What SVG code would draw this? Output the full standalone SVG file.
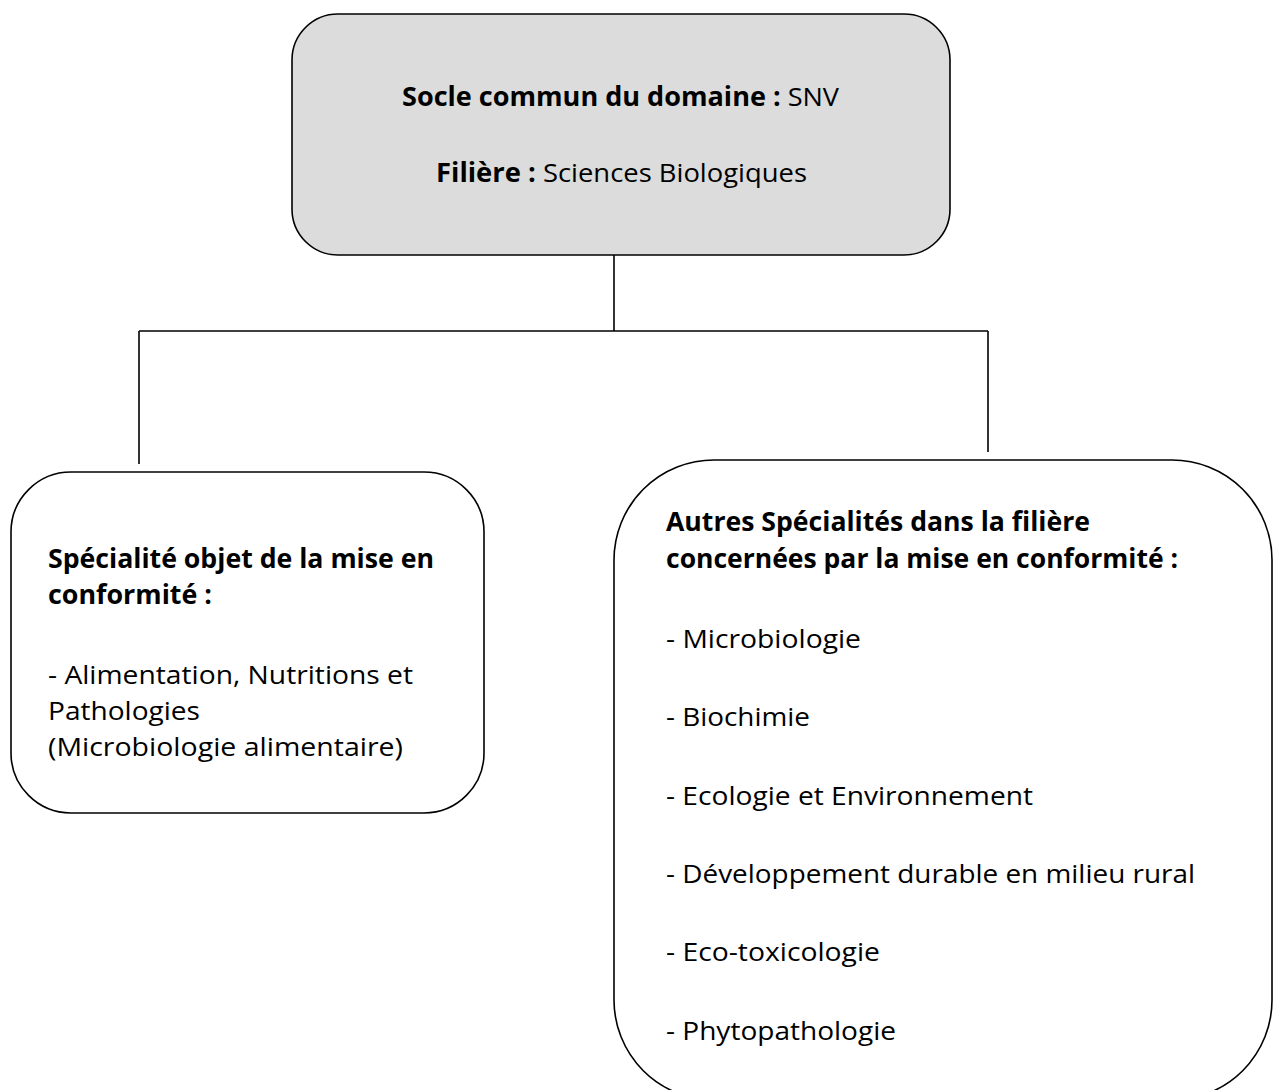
<svg xmlns="http://www.w3.org/2000/svg" width="1274" height="1090" viewBox="0 0 1274 1090">
<style>
.box{fill:#ffffff;stroke:#000;stroke-width:1.6}
.gray{fill:#dcdcdc}
.t{font-family:"Open Sans","Liberation Sans",sans-serif;font-size:26px;fill:#000}
.b{font-weight:bold}
.conn{stroke:#000;stroke-width:1.6;fill:none}
</style>
<rect width="1274" height="1090" fill="#ffffff"/>
<g id="connectors">
<path class="conn" d="M614 255 V331 M139 331 H988 M139 331 V464 M988 331 V452"/>
</g>
<g id="node-socle">
<rect class="box gray" x="292" y="14" width="658" height="241" rx="46" ry="46"/>
<text class="t" x="402" y="106" textLength="437" lengthAdjust="spacingAndGlyphs"><tspan class="b">Socle commun du domaine :</tspan> SNV</text>
<text class="t" x="436" y="182" textLength="371" lengthAdjust="spacingAndGlyphs"><tspan class="b">Filière :</tspan> Sciences Biologiques</text>
</g>
<g id="node-specialite">
<rect class="box" x="11" y="472" width="473" height="341" rx="60" ry="60"/>
<text class="t b" x="48" y="568" textLength="386" lengthAdjust="spacingAndGlyphs">Spécialité objet de la mise en</text>
<text class="t b" x="48" y="604" textLength="164" lengthAdjust="spacingAndGlyphs">conformité :</text>
<text class="t" x="48" y="684" textLength="365" lengthAdjust="spacingAndGlyphs">- Alimentation, Nutritions et</text>
<text class="t" x="48" y="720" textLength="152" lengthAdjust="spacingAndGlyphs">Pathologies</text>
<text class="t" x="48" y="756" textLength="355" lengthAdjust="spacingAndGlyphs">(Microbiologie alimentaire)</text>
</g>
<g id="node-autres">
<rect class="box" x="614" y="460" width="658" height="640" rx="100" ry="100"/>
<text class="t b" x="666" y="531" textLength="424" lengthAdjust="spacingAndGlyphs">Autres Spécialités dans la filière</text>
<text class="t b" x="666" y="568" textLength="512" lengthAdjust="spacingAndGlyphs">concernées par la mise en conformité :</text>
<text class="t" x="666" y="648" textLength="195" lengthAdjust="spacingAndGlyphs">- Microbiologie</text>
<text class="t" x="666" y="726" textLength="144" lengthAdjust="spacingAndGlyphs">- Biochimie</text>
<text class="t" x="666" y="805" textLength="367" lengthAdjust="spacingAndGlyphs">- Ecologie et Environnement</text>
<text class="t" x="666" y="883" textLength="529" lengthAdjust="spacingAndGlyphs">- Développement durable en milieu rural</text>
<text class="t" x="666" y="961" textLength="214" lengthAdjust="spacingAndGlyphs">- Eco-toxicologie</text>
<text class="t" x="666" y="1040" textLength="230" lengthAdjust="spacingAndGlyphs">- Phytopathologie</text>
</g>
</svg>
